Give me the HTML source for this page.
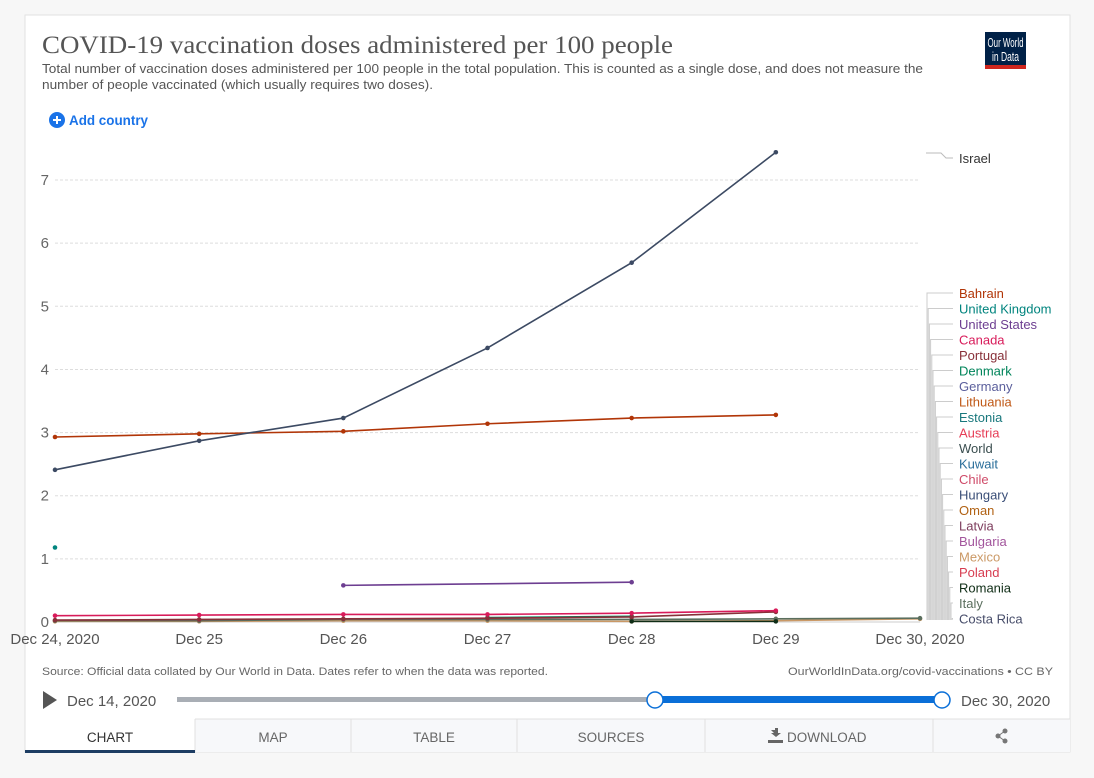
<!DOCTYPE html>
<html><head><meta charset="utf-8"><style>
html,body{margin:0;padding:0;background:#f7f7f7;}
svg{display:block;font-family:"Liberation Sans",sans-serif;}
</style></head><body>
<svg id="chart" width="1094" height="778" viewBox="0 0 1094 778" xmlns="http://www.w3.org/2000/svg">
<rect x="25" y="15" width="1045" height="737" fill="#fff" stroke="#e2e2e2"/>
<text x="42" y="53" font-family="Liberation Serif,serif" font-size="25" fill="#555" textLength="631" lengthAdjust="spacingAndGlyphs">COVID-19 vaccination doses administered per 100 people</text>
<text x="42" y="73" font-size="12.5" fill="#555" textLength="881" lengthAdjust="spacingAndGlyphs">Total number of vaccination doses administered per 100 people in the total population. This is counted as a single dose, and does not measure the</text>
<text x="42" y="89" font-size="12.5" fill="#555" textLength="391" lengthAdjust="spacingAndGlyphs">number of people vaccinated (which usually requires two doses).</text>
<g>
<rect x="985" y="32" width="41" height="33" fill="#002147"/><rect x="985" y="65" width="41" height="4" fill="#ce261e"/>
<text x="1005.5" y="47" font-size="12.5" fill="#fff" text-anchor="middle" textLength="36" lengthAdjust="spacingAndGlyphs">Our World</text>
<text x="1005.5" y="61" font-size="12.5" fill="#fff" text-anchor="middle" textLength="27" lengthAdjust="spacingAndGlyphs">in Data</text></g>
<g>
<circle cx="57" cy="120" r="8" fill="#1a73e8"/><path d="M53 120h8M57 116v8" stroke="#fff" stroke-width="2"/>
<text x="69" y="125" font-size="13.5" font-weight="bold" fill="#1a73e8" textLength="79" lengthAdjust="spacingAndGlyphs">Add country</text></g>
<g id="grid"></g><g id="lines"></g><g id="legend"></g>
<text x="42" y="675" font-size="11" fill="#666" textLength="506" lengthAdjust="spacingAndGlyphs">Source: Official data collated by Our World in Data. Dates refer to when the data was reported.</text>
<text x="1053" y="675" font-size="11" fill="#666" text-anchor="end" textLength="265" lengthAdjust="spacingAndGlyphs">OurWorldInData.org/covid-vaccinations • CC BY</text>
<path d="M43 691l14 9-14 9z" fill="#555"/>
<text x="67" y="706" font-size="15" fill="#555">Dec 14, 2020</text>
<rect x="177" y="697" width="478" height="5" fill="#a9aeb5"/>
<rect x="655" y="696" width="287" height="7" fill="#0a6fd8"/>
<circle cx="655" cy="700" r="8" fill="#fff" stroke="#0a6fd8" stroke-width="1.5"/>
<circle cx="942" cy="700" r="8" fill="#fff" stroke="#0a6fd8" stroke-width="1.5"/>
<text x="961" y="706" font-size="15" fill="#555">Dec 30, 2020</text>
<g>
<rect x="195" y="719" width="875" height="33" fill="#f7f8fa"/>
<path d="M195 719v33M351 719v33M517 719v33M705 719v33M933 719v33M195 719h875" stroke="#e0e0e0"/>
<rect x="25" y="750" width="170" height="3" fill="#1d3d63"/>
<text x="110" y="742" font-size="13.5" fill="#333" text-anchor="middle">CHART</text>
<text x="273" y="742" font-size="13.5" fill="#666" text-anchor="middle">MAP</text>
<text x="434" y="742" font-size="13.5" fill="#666" text-anchor="middle">TABLE</text>
<text x="611" y="742" font-size="13.5" fill="#666" text-anchor="middle">SOURCES</text>
<g><path d="M771 730h4v-2h3v5h3l-5 4-5-4h3z M768 740h15v3h-15z" fill="#666"/>
<text x="787" y="742" font-size="13.5" fill="#666">DOWNLOAD</text></g>
<g fill="#777"><circle cx="1005" cy="731" r="2.5"/><circle cx="998" cy="736" r="2.5"/><circle cx="1005" cy="741" r="2.5"/><path d="M1005 731L998 736L1005 741" stroke="#777" fill="none"/></g>
</g>
</svg>
<script>
const dates=["Dec 24, 2020","Dec 25","Dec 26","Dec 27","Dec 28","Dec 29","Dec 30, 2020"];
const yTicks=[0,1,2,3,4,5,6,7];
const israel=[2.41,2.87,3.23,4.34,5.69,7.44,null];
const bahrain=[2.93,2.98,3.02,3.14,3.23,3.28,null];
const germany=[null,null,0.58,null,0.63,null,null];
const ukDot=[1.18,null,null,null,null,null,null];
const usa=[0.1,0.11,0.12,0.12,0.14,0.18,null];
const canada=[0.03,0.04,0.05,0.06,0.08,0.16,null];
const denmark=[null,null,null,0.07,0.09,null,null];
const lowA=[0.02,0.02,0.04,0.04,0.04,0.05,0.06];
const lowB=[0.01,0.01,0.02,0.02,0.01,0.02,0.05];
const romania=[null,null,null,null,0.01,0.01,null];
const legendNames=["Bahrain","United Kingdom","United States","Canada","Portugal","Denmark","Germany","Lithuania","Estonia","Austria","World","Kuwait","Chile","Hungary","Oman","Latvia","Bulgaria","Mexico","Poland","Romania","Italy","Costa Rica"];
const legendColors=["#b13507","#00847e","#6d3e91","#d81b5a","#883039","#00845a","#5b5f9c","#c05917","#18777c","#e63d56","#3a4e4f","#2a6e9a","#cf4b69","#3a4e77","#b16214","#7e3e5e","#a2559c","#cb9966","#d73c50","#0f2d16","#5b6f5e","#474d6a"];
const NS="http://www.w3.org/2000/svg";
const X0=55,X1=920,Y0=622,PX=63.14;
const xs=i=>X0+i*(X1-X0)/(dates.length-1);
const ys=v=>Y0-v*PX;
function mk(tag,attrs,parent){const e=document.createElementNS(NS,tag);for(const k in attrs)e.setAttribute(k,attrs[k]);parent.appendChild(e);return e;}
const grid=document.getElementById('grid'),lines=document.getElementById('lines'),leg=document.getElementById('legend');
yTicks.forEach(t=>{
  if(t>0){const l=mk('line',{x1:X0,x2:X1,y1:ys(t),y2:ys(t),stroke:'#ddd','stroke-dasharray':'3,2'},grid);
  
  }
  const tx=mk('text',{x:49,y:ys(t)+5,'font-size':15,fill:'#666','text-anchor':'end'},grid);tx.textContent=t;
  
  
});
mk('line',{x1:X0,x2:X1,y1:Y0,y2:Y0,stroke:'#ccc'},grid);
dates.forEach((d,i)=>{
  const tx=mk('text',{x:xs(i),y:644,'font-size':15,fill:'#555','text-anchor':'middle'},grid);tx.textContent=d;
  
  
});
function series(vals,color,name){
  const g=mk('g',{},lines);
  
  
  let pts=[];vals.forEach((v,i)=>{if(v!=null)pts.push([xs(i),ys(v)]);});
  if(pts.length>1)mk('polyline',{points:pts.map(p=>p.join(',')).join(' '),fill:'none',stroke:color,'stroke-width':1.6},g);
  pts.forEach(p=>mk('circle',{cx:p[0],cy:p[1],r:2.3,fill:color},g));
}
series(lowB,'#cb9966','series-low-b');
series(lowA,'#5b6f5e','series-low-a');
series(romania,'#0f2d16','series-romania');
series(denmark,'#00845a','series-denmark');
series(canada,'#883039','series-canada');
series(usa,'#d81b5a','series-united-states');
series(ukDot,'#00847e','series-united-kingdom');
series(germany,'#6d3e91','series-germany');
series(bahrain,'#b13507','series-bahrain');
series(israel,'#3c4a63','series-israel');
mk('path',{d:'M926 153h15l5 5h7',fill:'none',stroke:'#bbb'},leg);
const it=mk('text',{x:959,y:163,'font-size':13,fill:'#333'},leg);it.textContent='Israel';


legendNames.forEach((n,i)=>{
  const y=293+i*15.5;const bx=927+i*1.2;
  mk('path',{d:`M${bx} ${620}V${y}h${953-bx}`,fill:'none',stroke:'#ccc'},leg);
  const t=mk('text',{x:959,y:y+5,'font-size':13,fill:legendColors[i]},leg);t.textContent=n;
  
  
});
</script>
</body></html>
